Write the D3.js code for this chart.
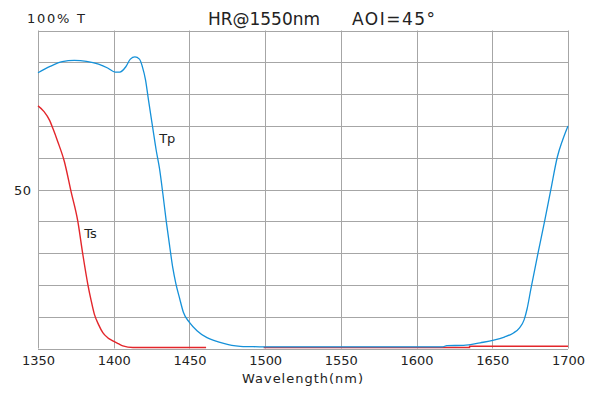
<!DOCTYPE html>
<html>
<head>
<meta charset="utf-8">
<script src="https://cdn.jsdelivr.net/npm/d3@7"></script>
<style>
body { margin: 0; background: #fff; }
text { font-family: "DejaVu Sans", sans-serif; fill: #222; }
</style>
</head>
<body>
<script>
var width = 595;
var height = 397;

var margin = {top: 30, left: 38, right: 27, bottom: 48};

// Tp (blue)
var tpWave = [1350, 1358, 1366, 1374, 1382, 1390, 1396, 1401, 1404, 1408, 1411, 1414, 1417, 1419, 1421, 1423,
  1425.8, 1428, 1430.2, 1432.5, 1434.7, 1437, 1439, 1441, 1443.5, 1446, 1450, 1455, 1461.6, 1467, 1472.6,
  1478, 1483.6, 1490, 1499, 1617, 1620, 1631, 1642, 1651, 1658, 1664, 1668, 1671, 1673, 1675.4, 1680.2,
  1684.7, 1688.6, 1693, 1696.4, 1700];
var tpVal = [86.7, 88.7, 90.2, 90.6, 90.3, 89.4, 88.2, 86.9, 86.9, 88.6, 91.0, 91.7, 91.0, 88.5, 84.5, 78,
  69.3, 62.5, 56.7, 48.5, 40, 32, 25.4, 20.5, 15.8, 11.4, 8.2, 5.6, 3.4, 2.4, 1.6,
  1.0, 0.7, 0.6, 0.5, 0.5, 0.9, 1.0, 1.8, 2.6, 3.6, 4.9, 6.5, 9, 12.5, 18.5, 30,
  40.4, 49.8, 60.3, 65.5, 70];

// Ts (red); null = no data
var tsWave = [1350, 1354, 1357.5, 1360, 1363, 1367.4, 1371.8, 1376.3, 1379.6, 1382.9, 1385, 1387.2, 1390,
  1392.8, 1396, 1399.4, 1403, 1406, 1412.7, 1461, 1480, 1499, 1635, 1635, 1700];
var tsVal = [76.3, 74.5, 71.9, 69, 65.1, 58.8, 49.4, 40, 29.6, 20.2, 15.3, 10.8, 7.5,
  5, 3.4, 2.4, 1.5, 0.8, 0.3, 0.3, null, 0.3, 0.3, 0.7, 0.7];

var xTicks = [1350, 1400, 1450, 1500, 1550, 1600, 1650, 1700];
var yTicks = [0, 10, 20, 30, 40, 50, 60, 70, 80, 90, 100];

var svg = d3.select("body")
  .append("svg")
  .attr("width", width)
  .attr("height", height);

var xScale = d3.scaleLinear()
  .domain([1350, 1700])
  .range([margin.left, width - margin.right]);

var yScale = d3.scaleLinear()
  .domain([0, 100])
  .range([height - margin.bottom - 0.5, margin.top + 0.5]);

// grid
svg.append("g").selectAll("line")
  .data(xTicks)
  .enter().append("line")
  .attr("x1", function(d) { return Math.round(xScale(d)) + 0.5; })
  .attr("x2", function(d) { return Math.round(xScale(d)) + 0.5; })
  .attr("y1", yScale(100))
  .attr("y2", yScale(0))
  .attr("stroke", "#a6a6a6");

svg.append("g").selectAll("line")
  .data(yTicks)
  .enter().append("line")
  .attr("x1", xScale(1350))
  .attr("x2", xScale(1700))
  .attr("y1", function(d) { return Math.round(yScale(d)) + 0.5; })
  .attr("y2", function(d) { return Math.round(yScale(d)) + 0.5; })
  .attr("stroke", "#a6a6a6");

// x axis labels
var xAxis = svg.append("g")
  .attr("transform", "translate(0," + (height - margin.bottom) + ")")
  .call(d3.axisBottom(xScale).tickValues(xTicks).tickSize(0).tickPadding(7).tickFormat(d3.format("d")));
xAxis.select(".domain").remove();
xAxis.selectAll("text")
  .attr("font-size", 13)
  .attr("font-family", "DejaVu Sans")
  .attr("fill", "#222")
  .attr("textLength", 33)
  .attr("lengthAdjust", "spacing");

var line = d3.line()
  .defined(function(d) { return d[1] !== null; })
  .x(function(d) { return xScale(d[0]); })
  .y(function(d) { return yScale(d[1]); })
  .curve(d3.curveMonotoneX);

svg.append("path")
  .datum(d3.zip(tsWave, tsVal))
  .attr("d", line)
  .attr("fill", "none")
  .attr("stroke", "#e3262b")
  .attr("stroke-width", 1.4);

svg.append("path")
  .datum(d3.zip(tpWave, tpVal))
  .attr("d", line)
  .attr("fill", "none")
  .attr("stroke", "#1591d9")
  .attr("stroke-width", 1.3);

// texts
function label(x, y, size, str, len) {
  var t = svg.append("text")
    .attr("x", x).attr("y", y)
    .attr("font-size", size)
    .text(str);
  if (len) t.attr("textLength", len).attr("lengthAdjust", "spacing");
  return t;
}

label(27, 22.5, 13, "100%  T", 58);
label(14, yScale(50) + 5, 13, "50", 17);
label(208, 25, 17, "HR@1550nm", 112);
label(352, 25, 17, "AOI=45°", 83);
label(242, 383, 13, "Wavelength(nm)", 121);
label(xScale(1430), yScale(64.5), 13, "Tp");
label(xScale(1380.5), yScale(34.8), 13, "Ts");
</script>
</body>
</html>
